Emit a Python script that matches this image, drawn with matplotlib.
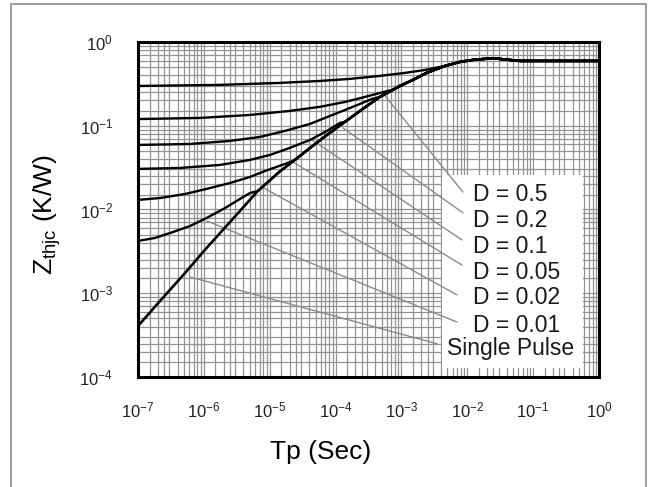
import numpy as np
import matplotlib
matplotlib.use('Agg')
import matplotlib.pyplot as plt
from matplotlib.patches import Rectangle
from matplotlib.ticker import LogLocator, NullFormatter

plt.rcParams['font.family'] = ['Liberation Sans', 'DejaVu Sans']
plt.rcParams['mathtext.fontset'] = 'custom'
plt.rcParams['mathtext.rm'] = 'Liberation Sans'
plt.rcParams['mathtext.it'] = 'Liberation Sans:italic'
plt.rcParams['mathtext.default'] = 'regular'

# single pulse transient thermal impedance (seconds, K/W)
sp_t = [1e-7, 2.16e-7, 5.2e-7, 1.1e-6, 2.5e-6, 6.6e-6, 1.4e-5, 2.3e-5, 4.1e-5,
        7.4e-5, 1.39e-4, 2.35e-4, 4.7e-4, 9.5e-4, 1.61e-3, 2.4e-3, 4.6e-3, 7.7e-3,
        1.22e-2, 1.86e-2, 2.64e-2, 3.74e-2, 6.3e-2, 1.0]
sp_z = [0.000406, 0.000808, 0.00175, 0.00347, 0.00709, 0.0166, 0.0281, 0.0380, 0.0542,
        0.0776, 0.111, 0.150, 0.2205, 0.298, 0.362, 0.4266, 0.517, 0.577,
        0.610, 0.628, 0.635, 0.618, 0.593, 0.593]

# duty cycle curves up to where they run into the single pulse curve
d05_t = [1e-7, 1.76e-6, 1.4e-5, 5.8e-5, 1.65e-4, 4.7e-4, 1.13e-3, 2.28e-3, 3.86e-3]
d05_z = [0.298, 0.307, 0.324, 0.342, 0.362, 0.393, 0.4266, 0.463, 0.503]
d02_t = [1e-7, 8.7e-7, 5.0e-6, 2.0e-5, 5.8e-5, 1.39e-4, 2.8e-4, 4.7e-4, 7.2e-4]
d02_z = [0.120, 0.1238, 0.1343, 0.150, 0.168, 0.192, 0.2205, 0.246, 0.2673]
d01_t = [1e-7, 6.2e-7, 2.5e-6, 7.1e-6, 1.7e-5, 4.1e-5, 8.2e-5, 1.39e-4, 2.35e-4, 3.57e-4]
d01_z = [0.0589, 0.0605, 0.0658, 0.0734, 0.0866, 0.105, 0.1307, 0.154, 0.182, 0.2087]
d005_t = [1e-7, 4.35e-7, 1.76e-6, 5.0e-6, 1.01e-5, 2.0e-5, 4.1e-5, 7.4e-5, 1.17e-4]
d005_z = [0.0305, 0.0313, 0.0340, 0.0390, 0.0448, 0.0542, 0.0676, 0.0866, 0.108]
d002_t = [1e-7, 2.16e-7, 5.2e-7, 1.1e-6, 2.5e-6, 5.0e-6, 8.5e-6, 1.4e-5]
d002_z = [0.0130, 0.0137, 0.0153, 0.0176, 0.0207, 0.0244, 0.0288, 0.0331]
d001_t = [1e-7, 1.81e-7, 3.4e-7, 6.2e-7, 1.1e-6, 2.1e-6, 3.5e-6, 5.0e-6]
d001_z = [0.00421, 0.00457, 0.00538, 0.00635, 0.00791, 0.0104, 0.0133, 0.0157]

labels = ['D = 0.5', 'D = 0.2', 'D = 0.1', 'D = 0.05', 'D = 0.02', 'D = 0.01',
          'Single Pulse']
# leader lines: start on the curve (data), end next to the label (axes fraction)
lead_t = [5.2e-4, 1.3e-4, 4.4e-5, 2.0e-5, 7.6e-6, 1.1e-6, 6.2e-7]
lead_z = [0.246, 0.094, 0.0676, 0.039, 0.0186, 0.0073, 0.00156]
lead_fx = [0.705, 0.705, 0.703, 0.703, 0.692, 0.692, 0.649]
lead_fy = [0.552, 0.490, 0.409, 0.334, 0.245, 0.164, 0.099]
label_fx = [0.727, 0.727, 0.727, 0.727, 0.727, 0.727, 0.670]
label_fy = [0.546, 0.466, 0.388, 0.313, 0.236, 0.155, 0.084]

x_ticks = [1e-7, 1e-6, 1e-5, 1e-4, 1e-3, 1e-2, 1e-1, 1e0]
x_tick_labels = ['10$^{-7}$', '10$^{-6}$', '10$^{-5}$', '10$^{-4}$',
                 '10$^{-3}$', '10$^{-2}$', '10$^{-1}$', '10$^{0}$']
y_ticks = [1e-4, 1e-3, 1e-2, 1e-1, 1e0]
y_tick_labels = ['10$^{-4}$', '10$^{-3}$', '10$^{-2}$', '10$^{-1}$', '10$^{0}$']

grid_subs = [1.5, 2, 2.5, 3, 4, 5, 6, 7, 8, 9]


def join_tail(t, z):
    tail = [(a, b) for a, b in zip(sp_t, sp_z) if a > t[-1]]
    return (list(t) + [a for a, _ in tail], list(z) + [b for _, b in tail])


fig = plt.figure(figsize=(6.51, 4.87), dpi=100)
fig.patches.append(Rectangle((0.0169, -0.02), 0.9754, 1.0118, transform=fig.transFigure,
                             fill=False, edgecolor='#8c8c8c', lw=1.2))
ax = fig.add_axes([0.212, 0.2259, 0.708, 0.688])
ax.set_xscale('log')
ax.set_yscale('log')
ax.set_xlim(1e-7, 1)
ax.set_ylim(1e-4, 1)

ax.xaxis.set_minor_locator(LogLocator(base=10, subs=grid_subs, numticks=60))
ax.yaxis.set_minor_locator(LogLocator(base=10, subs=grid_subs, numticks=60))
ax.xaxis.set_minor_formatter(NullFormatter())
ax.yaxis.set_minor_formatter(NullFormatter())
ax.set_axisbelow(True)
ax.grid(True, which='both', color='#939393', lw=0.9)

ax.set_xticks(x_ticks)
ax.set_xticklabels(x_tick_labels)
ax.set_yticks(y_ticks)
ax.set_yticklabels(y_tick_labels)
ax.tick_params(which='both', length=0)
ax.tick_params(axis='x', pad=17, labelsize=12, labelcolor='#222222')
ax.tick_params(axis='y', pad=18, labelsize=12, labelcolor='#222222')

for s in ax.spines.values():
    s.set_linewidth(2.2)
    s.set_color('black')

# white panel behind the curve labels
ax.add_patch(Rectangle((0.659, 0.027), 0.306, 0.576, transform=ax.transAxes,
                       facecolor='white', edgecolor='none', zorder=1))

for i in range(len(labels)):
    ax.annotate('', xy=(lead_t[i], lead_z[i]), xycoords='data',
                xytext=(lead_fx[i], lead_fy[i]), textcoords='axes fraction',
                arrowprops=dict(arrowstyle='-', color='#8a8a8a', lw=1.0,
                                shrinkA=0, shrinkB=0), zorder=2)
    ax.text(label_fx[i], label_fy[i], labels[i], transform=ax.transAxes,
            ha='left', va='center', fontsize=16.5, color='#1a1a1a', zorder=5)

for t, z in [(d05_t, d05_z), (d02_t, d02_z), (d01_t, d01_z),
             (d005_t, d005_z), (d002_t, d002_z), (d001_t, d001_z)]:
    tt, zz = join_tail(t, z)
    ax.plot(tt, zz, color='black', lw=1.7, zorder=3, solid_joinstyle='round')
ax.plot(sp_t, sp_z, color='black', lw=1.9, zorder=3, solid_joinstyle='round')

fig.text(47 / 651, 1 - 215 / 487, 'Z$_{thjc}$ (K/W)', rotation=90,
         ha='center', va='center', fontsize=19)
fig.text(321 / 651, 1 - 452 / 487, 'Tp (Sec)', ha='center', va='center', fontsize=19)

fig.savefig('out.png', dpi=100)
